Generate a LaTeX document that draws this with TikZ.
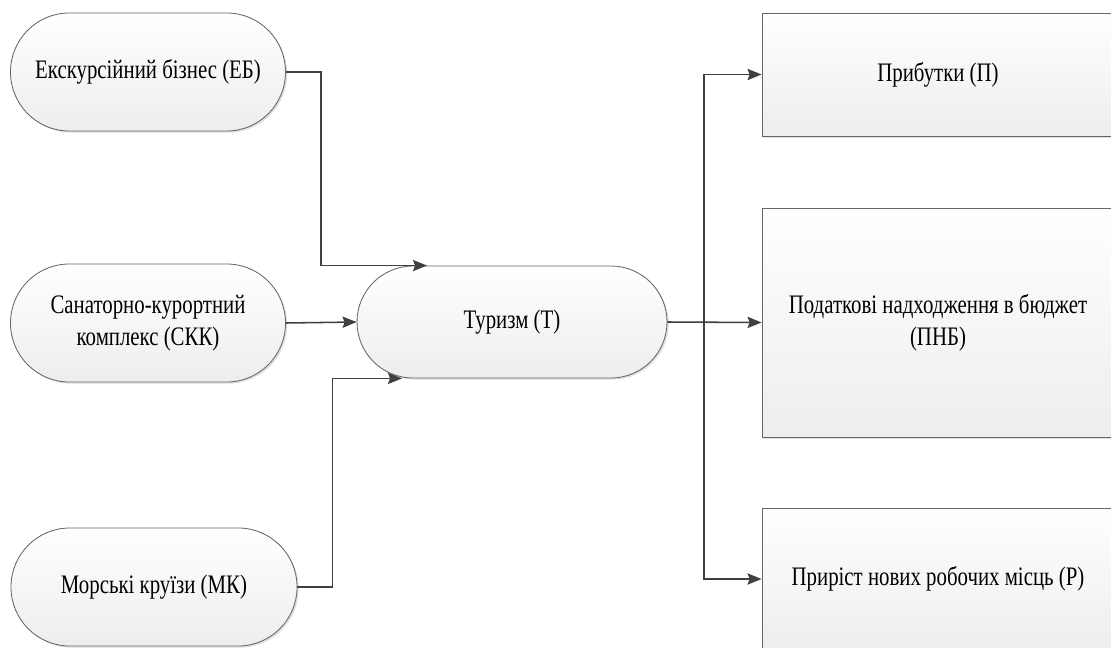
\documentclass[tikz,border=0pt]{standalone}
\usepackage{fontspec}
\setmainfont{Liberation Serif}[FakeStretch=0.78]
\usepackage{tikz}
\usetikzlibrary{arrows.meta,shadows}

\begin{document}
\begin{tikzpicture}[
  every node/.style={draw=black!60,line width=0.6pt,top color=white,bottom color=black!7,
    drop shadow={shadow xshift=1.2pt,shadow yshift=-1.2pt,fill=black!25},
    inner sep=0pt,align=center,font=\fontsize{19}{22.8}\selectfont},
  pill/.style={rectangle,rounded corners=1.47cm,minimum width=6.875cm,minimum height=2.95cm},
  goal/.style={rectangle,minimum width=8.8cm},
  link/.style={draw=black!75,line width=1.1pt,-{Stealth[length=10pt,width=8pt,inset=1.5pt]}}]
\clip (0,0) rectangle (27.775,-16.2);
\useasboundingbox (0,0) rectangle (27.775,-16.2);
\node[pill] (eb) at (3.7, -1.8) {Екскурсійний бізнес (ЕБ)};
\node[pill] (skk) at (3.7, -8.075) {Санаторно-курортний\\комплекс (СКК)};
\node[pill,minimum width=7.15cm] (mk) at (3.85, -14.675) {Морські круїзи (МК)};
\node[pill,rounded corners=1.4cm,minimum width=7.75cm,minimum height=2.8cm] (t) at (12.8, -8.05) {Туризм (Т)};
\node[goal,minimum height=3.075cm] (p) at (23.45, -1.8625) {Прибутки (П)};
\node[goal,minimum height=5.725cm] (pnb) at (23.45, -8.0625) {Податкові надходження в бюджет\\(ПНБ)};
\node[goal,minimum height=3.55cm] (r) at (23.45, -14.475) {Приріст нових робочих місць (Р)};
\coordinate (split) at (17.6, -8.05);
\draw [link] (eb.east) -- ++(0.875,0) |- ([xshift=-2.125cm]t.north);
\draw [link] (skk.east) -- (t.west);
\draw [link] (mk.east) -- ++(0.875,0) |- ([xshift=-2.75cm]t.south);
\draw [link] (t.east) -- (pnb.west);
\draw [link] (split) |- (p.west);
\draw [link] (split) |- (r.west);
\end{tikzpicture}
\end{document}
